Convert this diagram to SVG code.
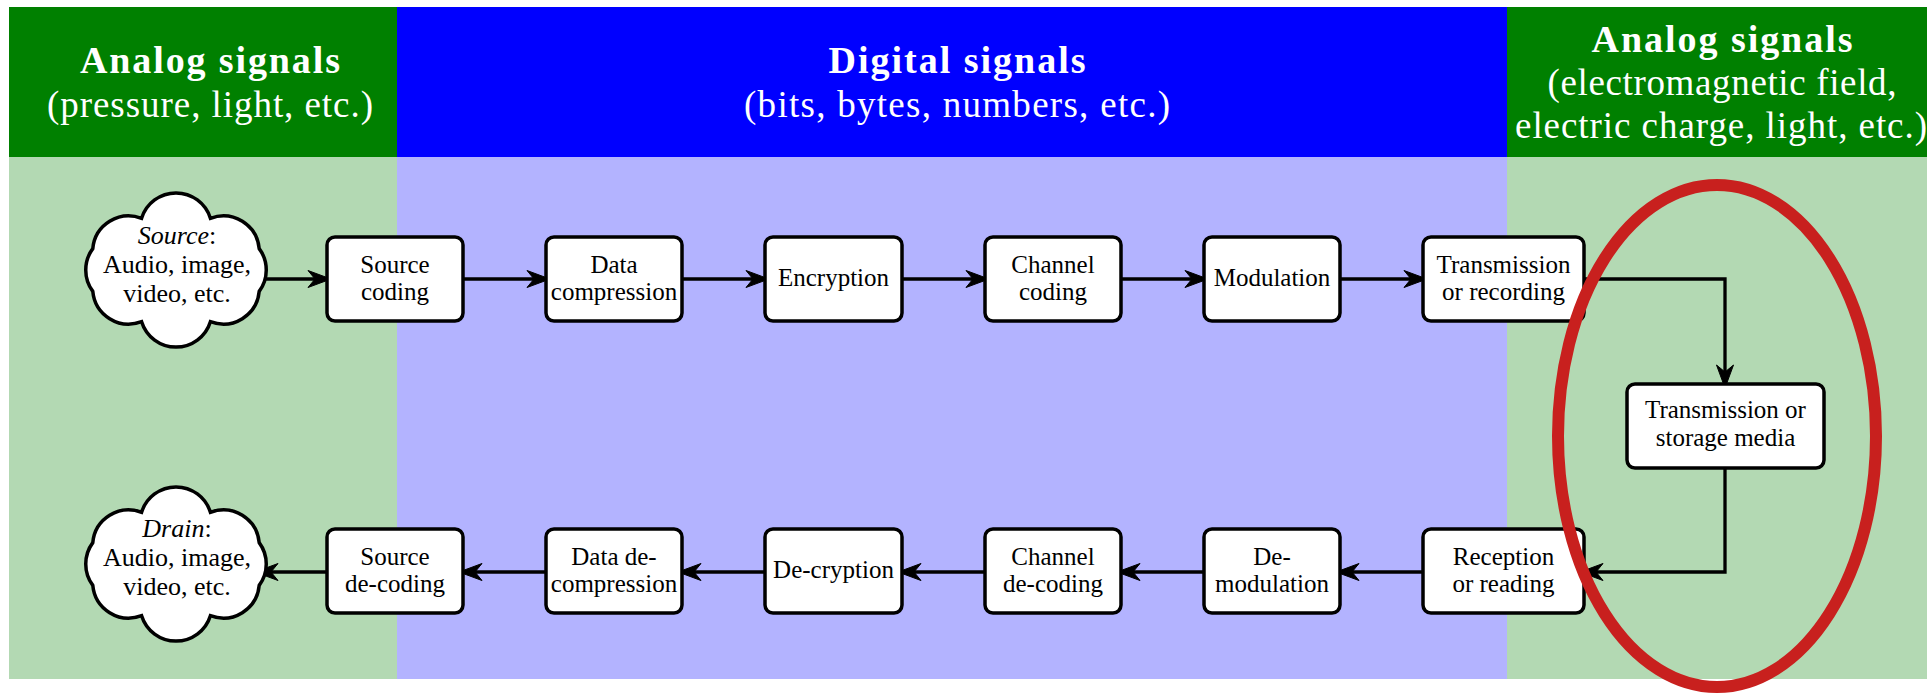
<svg xmlns="http://www.w3.org/2000/svg" width="1927" height="693" viewBox="0 0 1927 693">
<style>
.hdr{font-family:"Liberation Serif","Times New Roman",serif;fill:#fff;text-anchor:middle}
.hb{font-weight:bold;font-size:38px}
.hr{font-size:37px}
.box{fill:#fff;stroke:#000;stroke-width:3.5}
.lbl{font-family:"Liberation Serif","Times New Roman",serif;font-size:25px;fill:#000;text-anchor:middle}
.cl{font-size:26px}
.con{fill:none;stroke:#000;stroke-width:3.3}
</style>
<defs>
<marker id="ah" markerUnits="userSpaceOnUse" markerWidth="28" markerHeight="22" viewBox="-24 -11 28 22" refX="-3" refY="0" orient="auto">
<path d="M1,0 L-22,-8.5 L-15,0 L-22,8.5 Z" fill="#000" stroke="#000" stroke-width="1" stroke-linejoin="round"/>
</marker>
<path id="cloud" d="M83.2,21.4 A36,36 0 0 1 34.4,51.7 A36,36 0 0 1 -34.4,51.7 A36,36 0 0 1 -83.2,21.4 A36,36 0 0 1 -83.2,-21.4 A36,36 0 0 1 -34.4,-51.7 A36,36 0 0 1 34.4,-51.7 A36,36 0 0 1 83.2,-21.4 A36,36 0 0 1 83.2,21.4 Z" fill="#fff" stroke="#000" stroke-width="3.5"/>
</defs>

<g id="background">
<rect x="9" y="157" width="388" height="522" fill="#b3d9b3"/>
<rect x="397" y="157" width="1110" height="522" fill="#b3b3ff"/>
<rect x="1507" y="157" width="420" height="522" fill="#b3d9b3"/>
<rect x="9" y="7" width="388" height="150" fill="#008000"/>
<rect x="397" y="7" width="1110" height="150" fill="#0000ff"/>
<rect x="1507" y="7" width="420" height="150" fill="#008000"/>
</g>

<g id="header-analog-left">
<text class="hdr hb" x="210" y="73" textLength="260" lengthAdjust="spacing">Analog signals</text>
<text class="hdr hr" x="210" y="117" textLength="326" lengthAdjust="spacing">(pressure, light, etc.)</text>
</g>
<g id="header-digital">
<text class="hdr hb" x="957" y="73" textLength="257" lengthAdjust="spacing">Digital signals</text>
<text class="hdr hr" x="957" y="117" textLength="426" lengthAdjust="spacing">(bits, bytes, numbers, etc.)</text>
</g>
<g id="header-analog-right">
<text class="hdr hb" x="1722" y="52" textLength="261" lengthAdjust="spacing">Analog signals</text>
<text class="hdr hr" x="1722" y="95" textLength="349" lengthAdjust="spacing">(electromagnetic field,</text>
<text class="hdr hr" x="1721" y="138" textLength="412" lengthAdjust="spacing">electric charge, light, etc.)</text>
</g>

<g id="connectors">
<path class="con" d="M262,279 H327" marker-end="url(#ah)"/>
<path class="con" d="M463,279 H546" marker-end="url(#ah)"/>
<path class="con" d="M682,279 H765" marker-end="url(#ah)"/>
<path class="con" d="M902,279 H985" marker-end="url(#ah)"/>
<path class="con" d="M1121,279 H1204" marker-end="url(#ah)"/>
<path class="con" d="M1340,279 H1423" marker-end="url(#ah)"/>
<path class="con" d="M1584,279 H1725 V384" marker-end="url(#ah)"/>
<path class="con" d="M1725,468 V572 H1584" marker-end="url(#ah)"/>
<path class="con" d="M1423,572 H1340" marker-end="url(#ah)"/>
<path class="con" d="M1204,572 H1121" marker-end="url(#ah)"/>
<path class="con" d="M985,572 H902" marker-end="url(#ah)"/>
<path class="con" d="M765,572 H682" marker-end="url(#ah)"/>
<path class="con" d="M546,572 H463" marker-end="url(#ah)"/>
<path class="con" d="M327,572 H259" marker-end="url(#ah)"/>
</g>

<g id="source">
<use href="#cloud" x="176" y="270"/>
<text class="lbl cl" x="177" y="244"><tspan font-style="italic">Source</tspan>:</text>
<text class="lbl cl" x="177" y="273">Audio, image,</text>
<text class="lbl cl" x="177" y="302">video, etc.</text>
</g>
<g id="drain">
<use href="#cloud" x="176" y="564"/>
<text class="lbl cl" x="177" y="537"><tspan font-style="italic">Drain</tspan>:</text>
<text class="lbl cl" x="177" y="566">Audio, image,</text>
<text class="lbl cl" x="177" y="595">video, etc.</text>
</g>

<g id="source-coding">
<rect class="box" x="327" y="237" width="136" height="84" rx="8"/>
<text class="lbl" x="395" y="273">Source</text>
<text class="lbl" x="395" y="300">coding</text>
</g>
<g id="data-compression">
<rect class="box" x="546" y="237" width="136" height="84" rx="8"/>
<text class="lbl" x="614" y="273">Data</text>
<text class="lbl" x="614" y="300">compression</text>
</g>
<g id="encryption">
<rect class="box" x="765" y="237" width="137" height="84" rx="8"/>
<text class="lbl" x="833.5" y="286">Encryption</text>
</g>
<g id="channel-coding">
<rect class="box" x="985" y="237" width="136" height="84" rx="8"/>
<text class="lbl" x="1053" y="273">Channel</text>
<text class="lbl" x="1053" y="300">coding</text>
</g>
<g id="modulation">
<rect class="box" x="1204" y="237" width="136" height="84" rx="8"/>
<text class="lbl" x="1272" y="286">Modulation</text>
</g>
<g id="transmission-recording">
<rect class="box" x="1423" y="237" width="161" height="84" rx="8"/>
<text class="lbl" x="1503.5" y="273">Transmission</text>
<text class="lbl" x="1503.5" y="300">or recording</text>
</g>
<g id="media">
<rect class="box" x="1627" y="384" width="197" height="84" rx="8"/>
<text class="lbl" x="1725.5" y="418">Transmission or</text>
<text class="lbl" x="1725.5" y="446">storage media</text>
</g>
<g id="reception">
<rect class="box" x="1423" y="529" width="161" height="84" rx="8"/>
<text class="lbl" x="1503.5" y="565">Reception</text>
<text class="lbl" x="1503.5" y="592">or reading</text>
</g>
<g id="de-modulation">
<rect class="box" x="1204" y="529" width="136" height="84" rx="8"/>
<text class="lbl" x="1272" y="565">De-</text>
<text class="lbl" x="1272" y="592">modulation</text>
</g>
<g id="channel-decoding">
<rect class="box" x="985" y="529" width="136" height="84" rx="8"/>
<text class="lbl" x="1053" y="565">Channel</text>
<text class="lbl" x="1053" y="592">de-coding</text>
</g>
<g id="decryption">
<rect class="box" x="765" y="529" width="137" height="84" rx="8"/>
<text class="lbl" x="833.5" y="578">De-cryption</text>
</g>
<g id="data-decompression">
<rect class="box" x="546" y="529" width="136" height="84" rx="8"/>
<text class="lbl" x="614" y="565">Data de-</text>
<text class="lbl" x="614" y="592">compression</text>
</g>
<g id="source-decoding">
<rect class="box" x="327" y="529" width="136" height="84" rx="8"/>
<text class="lbl" x="395" y="565">Source</text>
<text class="lbl" x="395" y="592">de-coding</text>
</g>

<g id="highlight">
<ellipse cx="1717" cy="436" rx="159" ry="251" fill="none" stroke="#c8201e" stroke-width="12"/>
</g>
</svg>
